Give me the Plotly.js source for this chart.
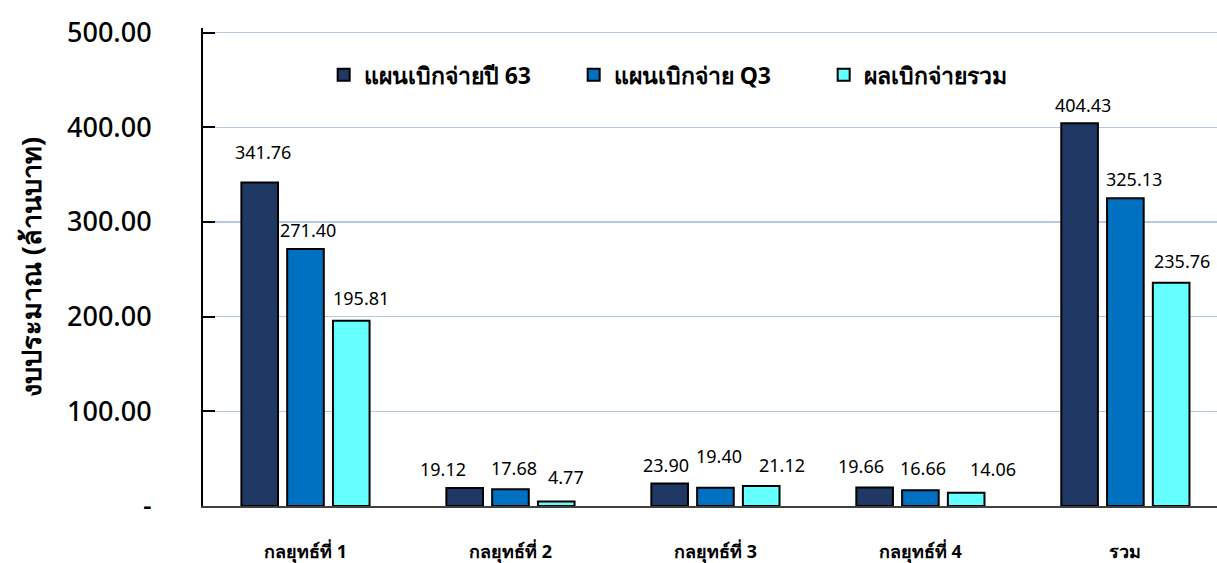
<!DOCTYPE html>
<html>
<head>
<meta charset="utf-8">
<script src="https://cdn.plot.ly/plotly-3.0.1.min.js"></script>
<style>html,body{margin:0;padding:0;background:#fff;}#chart{width:1217px;height:563px;}</style>
</head>
<body>
<div id="chart"></div>
<script>
const categories = ["กลยุทธ์ที่ 1", "กลยุทธ์ที่ 2", "กลยุทธ์ที่ 3", "กลยุทธ์ที่ 4", "รวม"];
const seriesNames = ["แผนเบิกจ่ายปี 63", "แผนเบิกจ่าย Q3", "ผลเบิกจ่ายรวม"];
const plan63 = [341.76, 19.12, 23.90, 19.66, 404.43];
const planQ3 = [271.40, 17.68, 19.40, 16.66, 325.13];
const actual = [195.81, 4.77, 21.12, 14.06, 235.76];
const yTickVals = [0, 100, 200, 300, 400, 500];
const yTickText = ["-", "100.00", "200.00", "300.00", "400.00", "500.00"];
const colors = ["#203864", "#0070C0", "#66FFFF"];

// data-label placement nudges (pixels), as in the original chart
const labelDx = [[3, -22, -4, -14, 3], [3, 4, 4, 3, 9], [10, 10, 21, 27, 11]];
const labelDy = [[31, 19, 18, 21, 18], [19, 21, 32, 22, 19], [23, 24, 21, 24, 22]];

const FONT = "Noto Sans, DejaVu Sans, sans-serif";
const values = [plan63, planQ3, actual];
const traces = values.map((v, i) => ({
  type: "bar",
  name: seriesNames[i],
  x: categories,
  y: v,
  marker: {color: colors[i], line: {color: "#000", width: 2}},
  hoverinfo: "skip"
}));

const annotations = [];
values.forEach((v, i) => {
  v.forEach((n, j) => {
    annotations.push({
      x: categories[j], y: n, xref: "x", yref: "y",
      text: n.toFixed(2), showarrow: false,
      xanchor: "center", yanchor: "middle",
      xshift: (i - 1) * 45.8 + labelDx[i][j], yshift: labelDy[i][j],
      font: {family: FONT, size: 18, color: "#000"}
    });
  });
});

const layout = {
  width: 1217, height: 563,
  margin: {l: 203, r: 0, t: 28, b: 57},
  paper_bgcolor: "#fff", plot_bgcolor: "#fff",
  font: {family: FONT, color: "#000"},
  barmode: "group",
  bargap: 0.33,
  bargroupgap: 0.2,
  showlegend: true,
  annotations: annotations,
  legend: {
    orientation: "h", x: 0.119, y: 0.902, xanchor: "left", yanchor: "middle",
    font: {family: FONT, size: 23, color: "#000", weight: "bold"},
    bgcolor: "rgba(0,0,0,0)", itemwidth: 30, entrywidth: 205, entrywidthmode: "pixels"
  },
  xaxis: {
    type: "category",
    range: [-0.5, 4.447],
    showline: true, linecolor: "#404040", linewidth: 2,
    ticks: "", showgrid: false, zeroline: false,
    tickfont: {family: FONT, size: 18, color: "#000", weight: "bold"},
    ticklabelstandoff: 28
  },
  yaxis: {
    range: [0, 505],
    tickvals: yTickVals, ticktext: yTickText,
    tickfont: {family: FONT, size: 27, color: "#000", weight: 500},
    ticks: "inside", ticklen: 12, tickwidth: 2, tickcolor: "#000",
    showline: true, linecolor: "#000", linewidth: 2,
    showgrid: true, gridcolor: "#B4C7E7", gridwidth: 1.5,
    zeroline: false,
    ticklabelstandoff: 44,
    title: {text: "งบประมาณ (ล้านบาท)", font: {family: FONT, size: 27, color: "#000", weight: "bold"}, standoff: 18},
    automargin: false
  }
};

Plotly.newPlot("chart", traces, layout, {displayModeBar: false, staticPlot: true});
</script>
</body>
</html>
